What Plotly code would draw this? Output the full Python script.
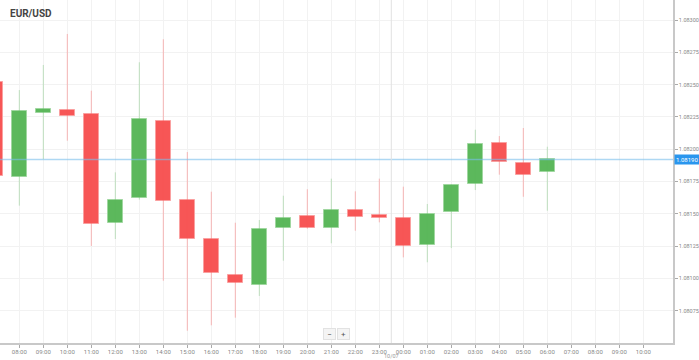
import plotly.graph_objects as go

# ---- data ----
times = ["2024-10-06 07:00", "2024-10-06 08:00", "2024-10-06 09:00", "2024-10-06 10:00",
         "2024-10-06 11:00", "2024-10-06 12:00", "2024-10-06 13:00", "2024-10-06 14:00",
         "2024-10-06 15:00", "2024-10-06 16:00", "2024-10-06 17:00", "2024-10-06 18:00",
         "2024-10-06 19:00", "2024-10-06 20:00", "2024-10-06 21:00", "2024-10-06 22:00",
         "2024-10-06 23:00", "2024-10-07 00:00", "2024-10-07 01:00", "2024-10-07 02:00",
         "2024-10-07 03:00", "2024-10-07 04:00", "2024-10-07 05:00", "2024-10-07 06:00"]
open_ = [1.08252, 1.081785, 1.08228, 1.082301, 1.08227, 1.081429, 1.08162, 1.082221,
         1.081609, 1.081307, 1.081026, 1.080951, 1.081392, 1.081481, 1.08139, 1.081529,
         1.081488, 1.081467, 1.081259, 1.081512, 1.081731, 1.08205, 1.081893, 1.081821]
high = [1.08262, 1.082458, 1.082652, 1.082892, 1.082453, 1.081821, 1.082673, 1.082851,
        1.081978, 1.081671, 1.081431, 1.081452, 1.08164, 1.08169, 1.081772, 1.081674,
        1.081772, 1.08171, 1.081576, 1.081728, 1.082151, 1.082102, 1.082164, 1.082019]
low = [1.08172, 1.081563, 1.081924, 1.082066, 1.081251, 1.081305, 1.08161, 1.080982,
       1.080595, 1.080637, 1.080696, 1.080864, 1.081137, 1.081385, 1.081272, 1.081369,
       1.081434, 1.081163, 1.081125, 1.081235, 1.081684, 1.081803, 1.081632, 1.081524]
close = [1.081795, 1.082293, 1.082309, 1.082259, 1.081421, 1.081609, 1.082231, 1.081599,
         1.081303, 1.081039, 1.080962, 1.08138, 1.081467, 1.08139, 1.081529, 1.081478,
         1.08147, 1.081248, 1.081501, 1.081721, 1.08204, 1.081901, 1.081798, 1.081922]
current_price = 1.08192
current_label = "1.08190"
ytick_vals = [1.08075, 1.08100, 1.08125, 1.08150, 1.08175, 1.08200, 1.08225, 1.08250, 1.08275, 1.08300]
ytick_text = ["1.08075", "1.08100", "1.08125", "1.08150", "1.08175", "1.08200", "1.08225", "1.08250", "1.08275", "1.08300"]
xtick_vals = ["2024-10-06 %02d:00" % h for h in range(7, 24)] + ["2024-10-07 %02d:00" % h for h in range(0, 11)]
xtick_text = ["%02d:00" % h for h in range(7, 24)] + ["%02d:00" % h for h in range(0, 11)]
day_label = "10/07"
day_sep = "2024-10-06 23:30"
title = "EUR/USD"

GREEN = "#5cb85c"
RED = "#f75656"
GREEN_W = "rgba(92,184,92,0.35)"
RED_W = "rgba(247,86,86,0.40)"
GREEN_B = "rgba(160,215,160,1)"
RED_B = "rgba(250,160,160,1)"

fig = go.Figure()

for up in (True, False):
    idx = [i for i in range(len(times)) if (close[i] >= open_[i]) == up]
    wx, wy = [], []
    for i in idx:
        wx += [times[i], times[i], None]
        wy += [low[i], high[i], None]
    fig.add_trace(go.Scatter(x=wx, y=wy, mode="lines",
                             line=dict(color=GREEN_W if up else RED_W, width=1),
                             hoverinfo="skip", showlegend=False))
    fig.add_trace(go.Bar(x=[times[i] for i in idx],
                         base=[min(open_[i], close[i]) for i in idx],
                         y=[max(abs(close[i] - open_[i]), 0.0000025) for i in idx],
                         width=0.6 * 3600 * 1000,
                         marker=dict(color=GREEN if up else RED,
                                     line=dict(color=GREEN_B if up else RED_B, width=1)),
                         showlegend=False))

fig.add_hline(y=current_price, line=dict(color="rgba(120,190,235,0.6)", width=1.5))
fig.add_shape(type="line", x0=day_sep, x1=day_sep, xref="x", yref="paper", y0=0, y1=1,
              line=dict(color="#e2e2e2", width=1))

fig.add_annotation(text=current_label, xref="paper", x=1, xanchor="left", xshift=1,
                   y=current_price, yref="y", showarrow=False,
                   font=dict(size=6, color="white", family="Roboto"),
                   bgcolor="#2a96ee", borderpad=1)
fig.add_annotation(text=day_label, x=day_sep, xref="x", y=0, yref="paper", yanchor="top",
                   yshift=-8, showarrow=False, font=dict(size=5.5, color="#999", family="Roboto"))
fig.add_annotation(text="<b>" + title + "</b>", xref="paper", yref="paper", x=0, xshift=8,
                   xanchor="left", y=1, yshift=-6, yanchor="top", showarrow=False,
                   font=dict(size=10, color="#444", family="Roboto"))
fig.add_annotation(text="−", xref="paper", yref="paper", x=0.4903, y=0, yanchor="bottom",
                   yshift=3, showarrow=False, font=dict(size=8, color="#555"),
                   bgcolor="#f4f4f4", bordercolor="#e2e2e2", borderwidth=1, borderpad=0,
                   width=11, height=10)
fig.add_annotation(text="+", xref="paper", yref="paper", x=0.5103, y=0, yanchor="bottom",
                   yshift=3, showarrow=False, font=dict(size=8, color="#555"),
                   bgcolor="#f4f4f4", bordercolor="#e2e2e2", borderwidth=1, borderpad=0,
                   width=11, height=10)

fig.update_layout(
    width=699, height=360,
    margin=dict(l=0, r=26, t=0, b=17),
    paper_bgcolor="white", plot_bgcolor="white",
    barmode="overlay", bargap=0,
    font=dict(family="Roboto", size=6, color="#888"),
    xaxis=dict(type="date", range=["2024-10-06 07:11:45", "2024-10-07 11:14:15"],
               tickvals=xtick_vals, ticktext=xtick_text, showgrid=True, gridcolor="#f2f2f2",
               gridwidth=1, showline=True, linecolor="#c8c8c8", linewidth=1.5,
               ticks="outside", ticklen=3, tickcolor="#aaa", zeroline=False,
               ticklabelstandoff=-1,
               tickfont=dict(size=6, color="#888")),
    yaxis=dict(side="right", range=[1.08050, 1.083155], tickvals=ytick_vals,
               ticktext=ytick_text, showgrid=True, gridcolor="#f2f2f2", gridwidth=1,
               showline=True, linecolor="#c8c8c8", linewidth=1.5, ticks="outside",
               ticklen=3, tickcolor="#aaa", zeroline=False,
               tickfont=dict(size=5.5, color="#888")),
)

fig.write_html("out.html", config={"displayModeBar": False},
               post_script="document.body.style.margin='0px';document.body.style.padding='0px';")
